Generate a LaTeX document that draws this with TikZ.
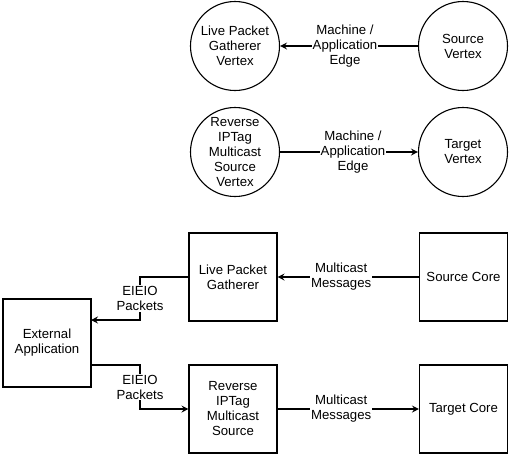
\documentclass[tikz,border=0pt]{standalone}
\usepackage{fontspec}
\setmainfont{Liberation Sans}
\usetikzlibrary{arrows.meta}
\begin{document}
\begin{tikzpicture}[x=1pt,y=-1pt,
  every node/.style={font=\fontsize{13.2}{15}\selectfont, align=center, inner sep=0pt},
  vtx/.style={draw, circle, line width=1.1pt, minimum size=89pt},
  blk/.style={draw, rectangle, line width=1.1pt, minimum width=88pt, minimum height=88pt},
  conn/.style={line width=1.1pt, -{Stealth[length=7pt,width=7pt,inset=2.5pt]}},
  lbl/.style={fill=white, inner sep=1pt}]
\useasboundingbox (0,0) rectangle (510,456);
% circles
\node[vtx] (lpgv) at (235,46) {Live Packet\\Gatherer\\Vertex};
\node[vtx] (srcv) at (463,46) {Source\\Vertex};
\node[vtx] (rimv) at (235,152) {Reverse\\IPTag\\Multicast\\Source\\Vertex};
\node[vtx] (tgtv) at (463,152) {Target\\Vertex};
% boxes
\node[blk] (lpg) at (233,277) {Live Packet\\Gatherer};
\node[blk] (srcc) at (463.5,277) {Source Core};
\node[blk] (ext) at (47,343) {External\\Application};
\node[blk] (rim) at (233,409) {Reverse\\IPTag\\Multicast\\Source};
\node[blk] (tgtc) at (463.5,409) {Target Core};
% edges
\draw[conn] (srcv) -- node[lbl, pos=0.5, xshift=-4pt] {Machine /\\Application\\Edge} (lpgv);
\draw[conn] (rimv) -- node[lbl, pos=0.5, xshift=4pt] {Machine /\\Application\\Edge} (tgtv);
\draw[conn] (srcc) -- node[lbl, pos=0.55] {Multicast\\Messages} (lpg);
\draw[conn] (rim) -- node[lbl, pos=0.45] {Multicast\\Messages} (tgtc);
\coordinate (a1) at (140,277);
\coordinate (a2) at (140,320);
\coordinate (e1) at (91,320);
\draw[conn] (lpg.west) -- (a1) -- node[lbl] {EIEIO\\Packets} (a2) -- (e1);
\coordinate (b0) at (91,365);
\coordinate (b1) at (140,365);
\coordinate (b2) at (140,409);
\draw[conn] (b0) -- (b1) -- node[lbl] {EIEIO\\Packets} (b2) -- (rim.west);
\end{tikzpicture}
\end{document}
